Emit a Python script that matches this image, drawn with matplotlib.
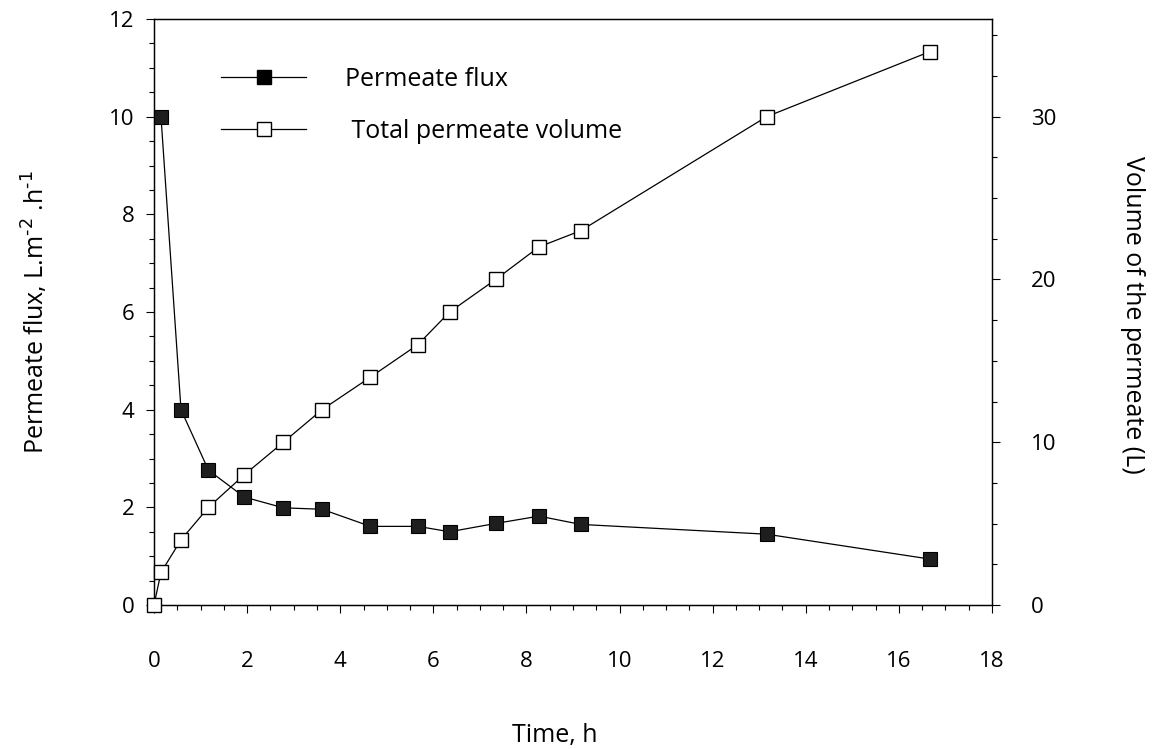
import matplotlib
matplotlib.use("Agg")
import matplotlib.pyplot as plt
from matplotlib.ticker import MultipleLocator
from matplotlib.lines import Line2D

plt.rcParams['font.family'] = ['Open Sans', 'DejaVu Sans']

# Data
time_volume = [0.0, 0.15, 0.58, 1.17, 1.94, 2.78, 3.61, 4.65, 5.67, 6.35, 7.34, 8.27, 9.17, 13.16, 16.67]
volume = [0, 2, 4, 6, 8, 10, 12, 14, 16, 18, 20, 22, 23, 30, 34]
time_flux = [0.15, 0.58, 1.17, 1.94, 2.78, 3.61, 4.65, 5.67, 6.35, 7.34, 8.27, 9.17, 13.16, 16.67]
flux = [10.0, 4.0, 2.76, 2.21, 1.99, 1.96, 1.61, 1.61, 1.50, 1.67, 1.82, 1.65, 1.45, 0.94]

fig = plt.figure(figsize=(11.59, 7.49), dpi=100)
ax = fig.add_axes([154/1159, 1-605/749, (992-154)/1159, (605-19)/749])
ax2 = ax.twinx()

ax.plot(time_flux, flux, '-', color='black', lw=0.9, marker='s', ms=9.5,
        markerfacecolor='#1e1e1e', markeredgecolor='#000000', mew=0.8, clip_on=False, zorder=3)
ax2.plot(time_volume, volume, '-', color='black', lw=0.9, marker='s', ms=9.5,
         markerfacecolor='white', markeredgecolor='black', mew=1.0, clip_on=False, zorder=3)

ax.set_xlim(0, 18)
ax.set_ylim(0, 12)
ax2.set_ylim(0, 36)

ax.xaxis.set_major_locator(MultipleLocator(2))
ax.xaxis.set_minor_locator(MultipleLocator(0.5))
ax.yaxis.set_major_locator(MultipleLocator(2))
ax.yaxis.set_minor_locator(MultipleLocator(0.5))
ax2.yaxis.set_major_locator(MultipleLocator(10))
ax2.yaxis.set_minor_locator(MultipleLocator(2.5))

for a in (ax, ax2):
    for s in a.spines.values():
        s.set_linewidth(0.9)
ax.tick_params(axis='x', which='major', direction='out', length=6, width=0.8, labelsize=16, pad=27, top=False)
ax.tick_params(axis='x', which='minor', direction='out', length=3.6, width=0.8, top=False)
ax.tick_params(axis='y', which='major', direction='out', length=6, width=0.8, labelsize=16, pad=8, right=False)
ax.tick_params(axis='y', which='minor', direction='out', length=3.6, width=0.8, right=False)
ax2.tick_params(axis='y', which='major', direction='out', length=6, width=0.8, labelsize=16, pad=22)
ax2.tick_params(axis='y', which='minor', direction='out', length=3.6, width=0.8)

ax.set_xlabel('Time, h', fontsize=18)
ax.xaxis.set_label_coords(0.4785, -0.201)
ax.set_ylabel(r'Permeate flux, L.m$^{\text{-2}}$ .h$^{\text{-1}}$', fontsize=18, va='center')
ax.yaxis.set_label_coords(-0.142, 0.5)
ax2.set_ylabel('Volume of the permeate (L)', fontsize=18, rotation=270, va='center')
ax2.yaxis.set_label_coords(1.168, 0.495)

handles = [
    Line2D([], [], color='black', lw=0.9, marker='s', ms=9.5, markerfacecolor='black', markeredgecolor='black'),
    Line2D([], [], color='black', lw=0.9, marker='s', ms=9.5, markerfacecolor='white', markeredgecolor='black'),
]
ax2.legend(handles, ['Permeate flux', ' Total permeate volume'], loc='upper left',
           bbox_to_anchor=(0.08, 0.918), frameon=False, fontsize=18, handlelength=3.4,
           handletextpad=1.55, labelspacing=1.06, borderpad=0, borderaxespad=0)

fig.savefig('out.png', dpi=100)
